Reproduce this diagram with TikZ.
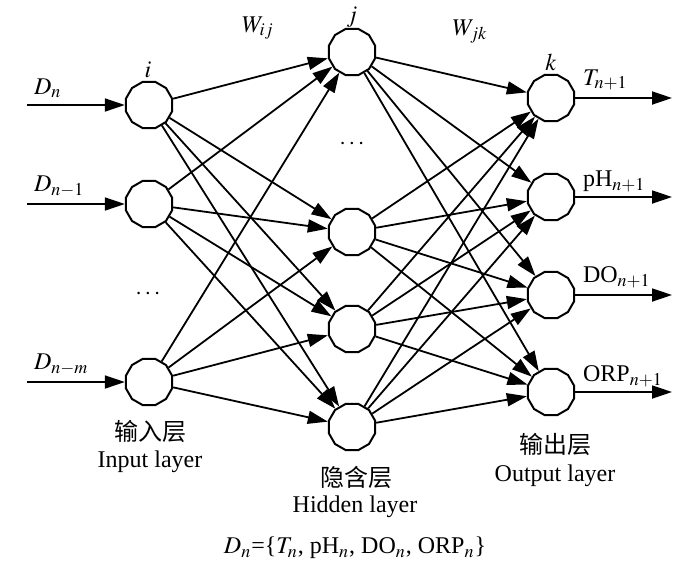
\documentclass[tikz,border=0pt]{standalone}
\usepackage{mathptmx}
\usepackage{fontspec}
\setmainfont{Liberation Serif}
\newfontfamily\cjk{Noto Sans CJK SC}
\usetikzlibrary{arrows.meta,shapes.geometric}

\begin{document}
\begin{tikzpicture}[x=0.5pt,y=-0.5pt,
    every node/.style={font=\fontsize{12}{14}\selectfont},
    neuron/.style={draw,line width=1pt,regular polygon,regular polygon sides=12,
        minimum size=24pt,inner sep=0pt,fill=white},
    link/.style={line width=0.9pt,-{Triangle[length=10pt,width=6.5pt]}}]
            \useasboundingbox (0,0) rectangle (700,568);
            % layers
            \node[neuron] (in1) at (149,105) {};
            \node[neuron] (in2) at (149,204) {};
            \node[neuron] (in3) at (149,382) {};
            \node[neuron] (h1) at (352,52) {};
            \node[neuron] (h2) at (352,232) {};
            \node[neuron] (h3) at (352,329) {};
            \node[neuron] (h4) at (352,427) {};
            \node[neuron] (o1) at (551,98) {};
            \node[neuron] (o2) at (551,197) {};
            \node[neuron] (o3) at (551,295) {};
            \node[neuron] (o4) at (551,392) {};
            \foreach \a in {1,2,3}
                \foreach \b in {1,...,4}
                    \draw[link] (in\a) -- (h\b);
            \foreach \a in {1,...,4}
                \foreach \b in {1,...,4}
                    \draw[link] (h\a) -- (o\b);
            % inputs
            \coordinate (s1) at (27,105);
            \coordinate (s2) at (27,204);
            \coordinate (s3) at (27,382);
            \draw[link] (s1) -- (in1);
            \draw[link] (s2) -- (in2);
            \draw[link] (s3) -- (in3);
            \node[above right] at (s1) {$D_n$};
            \node[above right] at (s2) {$D_{n-1}$};
            \node[above right] at (s3) {$D_{n-m}$};
            % outputs
            \coordinate (e1) at (672,98);
            \coordinate (e2) at (672,197);
            \coordinate (e3) at (672,295);
            \coordinate (e4) at (672,392);
            \draw[link] (o1) -- (e1);
            \draw[link] (o2) -- (e2);
            \draw[link] (o3) -- (e3);
            \draw[link] (o4) -- (e4);
            \node[anchor=west] at (576,80) {$T_{n+1}$};
            \node[anchor=west] at (576,181) {pH$_{n+1}$};
            \node[anchor=west] at (576,277) {DO$_{n+1}$};
            \node[anchor=west] at (576,376) {ORP$_{n+1}$};
            % labels
            \node at (148,70) {$i$};
            \node at (352,17) {$j$};
            \node at (551,62) {$k$};
            \node at (258,28) {$W_{ij}$};
            \node at (470,32) {$W_{jk}$};
            \node at (148,294) {$\cdots$};
            \node at (352,144) {$\cdots$};
            \node at (150,431) {\cjk 输入层};
            \node at (150,462) {Input layer};
            \node at (356,477) {\cjk 隐含层};
            \node at (355,507) {Hidden layer};
            \node at (555,444) {\cjk 输出层};
            \node at (555,476) {Output layer};
            \node at (355,548) {$D_n$=\{$T_n$, pH$_n$, DO$_n$, ORP$_n$\}};
        \end{tikzpicture}
\end{document}
